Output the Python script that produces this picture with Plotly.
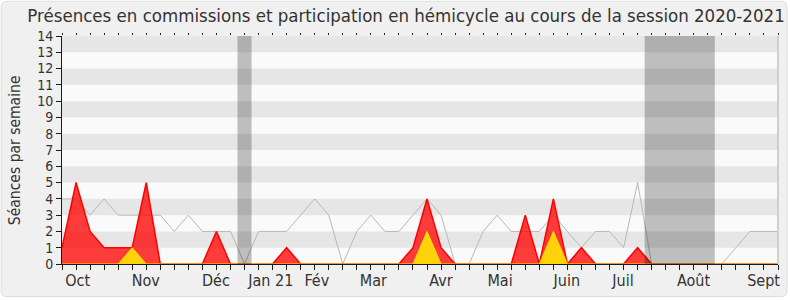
import plotly.graph_objects as go

# ---- data (weekly, session 2020-2021; week index 0 = first week of Oct 2020) ----
weeks = list(range(52))
hemicycle = [4, 4, 3, 4, 3, 3, 3, 3, 2, 3, 2, 2, 2, 0, 2, 2, 2, 3, 4, 3,
             0, 2, 3, 2, 2, 3, 4, 3, 0, 0, 2, 3, 2, 2, 2, 3, 2, 1, 2, 2,
             1, 5, 0, 0, 0, 0, 0, 0, 1, 2, 2, 2]
commission = [1, 5, 2, 1, 1, 1, 5, 0, 0, 0, 0, 2, 0, 0, 0, 0, 1, 0, 0, 0,
              0, 0, 0, 0, 0, 1, 4, 1, 0, 0, 0, 0, 0, 3, 0, 4, 0, 1, 0, 0,
              0, 1, 0, 0, 0, 0, 0, 0, 0, 0, 0, 0]
interventions = [0, 0, 0, 0, 0, 1, 0, 0, 0, 0, 0, 0, 0, 0, 0, 0, 0, 0, 0, 0,
                 0, 0, 0, 0, 0, 0, 2, 0, 0, 0, 0, 0, 0, 0, 0, 2, 0, 0, 0, 0,
                 0, 0, 0, 0, 0, 0, 0, 0, 0, 0, 0, 0]
month_labels = ["Oct", "Nov", "Déc", "Jan 21", "Fév", "Mar", "Avr", "Mai",
                "Juin", "Juil", "Août", "Sept"]
month_pos = [1.12, 5.97, 10.96, 14.87, 18.15, 22.18, 26.99, 31.2, 35.96,
             39.96, 44.98, 49.97]
vacations = [(13, 13), (42, 46)]  # first and last vacation week
y_max = 14

FONT = "DejaVu Sans Condensed, DejaVu Sans"
W, H = 790, 300
ML, MR, MT, MB = 62, 10, 36, 34
PW, PH = W - ML - MR, H - MT - MB

fig = go.Figure()
fig.add_trace(go.Scatter(x=weeks, y=hemicycle, mode="lines",
                         line=dict(color="#b8b8b8", width=1),
                         hoverinfo="skip", xaxis="x", yaxis="y"))
fig.add_trace(go.Scatter(x=weeks, y=commission, mode="lines", fill="tozeroy",
                         fillcolor="rgba(255,0,0,0.76)",
                         line=dict(color="#ff0000", width=1.5),
                         hoverinfo="skip", xaxis="x2", yaxis="y"))
fig.add_trace(go.Scatter(x=weeks, y=interventions, mode="lines", fill="tozeroy",
                         fillcolor="#ffd20a",
                         line=dict(color="#ffe000", width=1),
                         hoverinfo="skip", xaxis="x2", yaxis="y"))

shapes = []
# rounded background card
x0 = -ML / PW + 1 / PW
x1 = (W - ML - 1) / PW
y0 = -MB / PH + 1 / PH
y1 = (H - MB - 1) / PH
rx = 6 / PW
ry = 6 / PH
path = (f"M {x0+rx},{y0} L {x1-rx},{y0} Q {x1},{y0} {x1},{y0+ry} "
        f"L {x1},{y1-ry} Q {x1},{y1} {x1-rx},{y1} L {x0+rx},{y1} "
        f"Q {x0},{y1} {x0},{y1-ry} L {x0},{y0+ry} Q {x0},{y0} {x0+rx},{y0} Z")
shapes.append(dict(type="path", xref="paper", yref="paper", path=path,
                   fillcolor="#f0f0f0", line=dict(color="#dedede", width=1),
                   layer="below"))
# plot area
shapes.append(dict(type="rect", xref="paper", yref="paper", x0=0, x1=1, y0=0, y1=1,
                   fillcolor="#fafafa", line=dict(width=0), layer="below"))
# stripes
for k in range(1, y_max, 2):
    shapes.append(dict(type="rect", xref="paper", yref="y", x0=0, x1=1,
                       y0=k, y1=k + 1, fillcolor="#e6e6e6",
                       line=dict(width=0), layer="below"))
# vacations
for a, b in vacations:
    shapes.append(dict(type="rect", xref="x", yref="paper", x0=a - 0.5, x1=b + 0.5,
                       y0=0, y1=1, fillcolor="rgba(0,0,0,0.24)",
                       line=dict(width=0), layer="above"))
# right border
shapes.append(dict(type="line", xref="paper", yref="paper", x0=1, x1=1, y0=0, y1=1,
                   line=dict(color="#cfcfcf", width=2), layer="above"))

fig.update_layout(
    width=W, height=H,
    margin=dict(l=ML, r=MR, t=MT, b=MB),
    paper_bgcolor="white",
    plot_bgcolor="rgba(0,0,0,0)",
    showlegend=False,
    font=dict(family=FONT, size=14, color="#333"),
    title=dict(text="Présences en commissions et participation en hémicycle au cours de la session 2020-2021",
               x=0.514, xanchor="center", xref="container",
               y=1 - 16 / H, yanchor="middle", yref="container",
               font=dict(family=FONT, size=18.5, color="#333")),
    xaxis=dict(range=[0, 51], tickmode="array", tickvals=month_pos,
               ticktext=month_labels, ticks="outside", ticklen=2,
               tickcolor="rgba(0,0,0,0)", showgrid=False, zeroline=False,
               showline=True, linecolor="#1a1a1a", linewidth=1,
               tickfont=dict(family=FONT, size=16, color="#333"),
               minor=dict(tickmode="linear", tick0=0, dtick=1, ticks="outside",
                          ticklen=5, tickcolor="#1a1a1a", tickwidth=1, showgrid=False),
               fixedrange=True),
    xaxis2=dict(range=[0, 51], overlaying="x", side="top", anchor="y",
                tickmode="linear", tick0=0, dtick=1, ticks="outside", ticklen=2,
                tickcolor="#222", showticklabels=False, showgrid=False,
                zeroline=False, showline=False, fixedrange=True),
    yaxis=dict(range=[0, y_max], tickmode="linear", tick0=0, dtick=1,
               ticks="outside", ticklen=5, tickcolor="#1a1a1a",
               showgrid=False, zeroline=False, showline=True,
               linecolor="#1a1a1a", linewidth=1,
               tickfont=dict(family=FONT, size=14, color="#333"),
               fixedrange=True),
    shapes=shapes,
    annotations=[dict(text="Séances par semaine", xref="paper", yref="paper",
                      x=(15 - ML) / PW, y=0.5, xanchor="center", yanchor="middle",
                      textangle=-90, showarrow=False,
                      font=dict(family=FONT, size=15.5, color="#333"))],
)

fig.write_html("out.html")
